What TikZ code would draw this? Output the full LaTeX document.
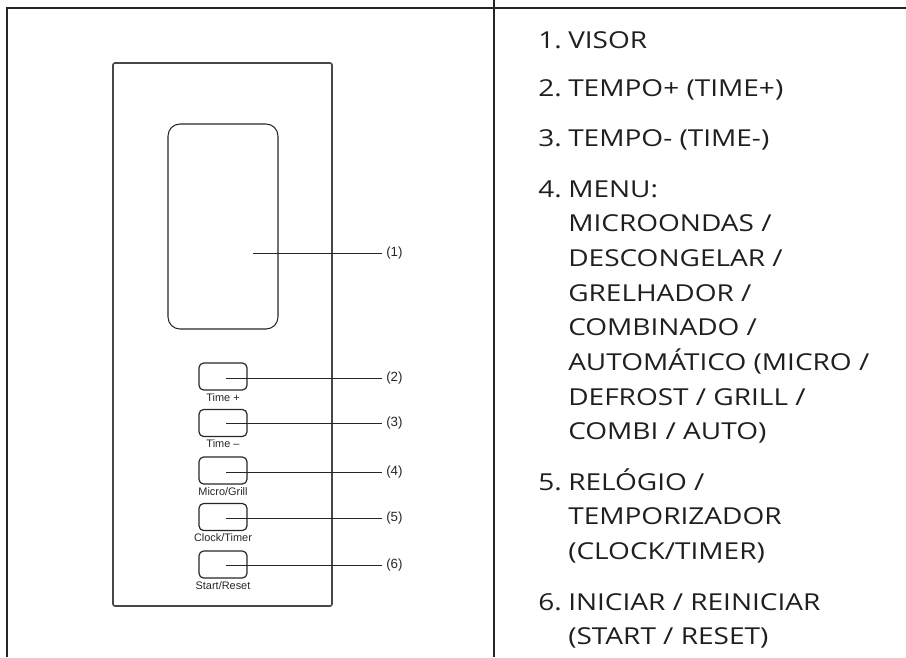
\documentclass[tikz,border=0pt]{standalone}
\usepackage{fontspec}
\setmainfont[FakeStretch=1.2]{Open Sans}
\newfontfamily\arialfont{Liberation Sans}
\usepackage{tikz}
\usetikzlibrary{positioning}
\newcommand{\entry}[2]{\makebox[22.5pt][l]{#1}\parbox[t]{250pt}{\raggedright #2}}
\tikzset{
  rule/.style={line width=0.8pt, black!85},
  panelbox/.style={draw=black!72, line width=1.2pt, rounded corners=1.5pt, minimum width=164.25pt, minimum height=407.25pt},
  screenbox/.style={draw=black!85, line width=0.8pt, rounded corners=9pt, minimum width=82.5pt, minimum height=153.75pt},
  keybox/.style={draw=black!85, line width=0.9pt, rounded corners=3.5pt, minimum width=36pt, minimum height=20.25pt},
  keylabel/.style={font=\arialfont\fontsize{8.2}{9}\selectfont, inner sep=0.5pt, text=black!85},
  calllabel/.style={font=\arialfont\fontsize{10}{12}\selectfont, inner xsep=3pt, anchor=west, text=black!85},
  leader/.style={line width=0.6pt, black!85},
  itemtext/.style={font=\fontsize{17.5}{26}\selectfont, inner sep=0pt, anchor=base west, text=black!88}
}
\begin{document}
\begin{tikzpicture}[x=0.75pt, y=-0.75pt]
  \useasboundingbox (0,0) rectangle (906,657);
  % table
  \draw[rule] (7,657) -- (7,8) -- (906,8);
  \draw[rule] (494,0) -- (494,657);
  % control panel
  \node[panelbox] (panel) at (222.5,334.5) {};
  \node[screenbox] (screen) at (223,226.5) {};
  \node[keybox] (k2) at (223,376.5) {};
  \node[keybox] (k3) at (223,423) {};
  \node[keybox] (k4) at (223,470.5) {};
  \node[keybox] (k5) at (223,517) {};
  \node[keybox] (k6) at (223,564.5) {};
  \node[keylabel, below=1.5pt of k2] (k2txt) {Time +};
  \node[keylabel, below=1.5pt of k3] (k3txt) {Time \textendash};
  \node[keylabel, below=1.5pt of k4] (k4txt) {Micro/Grill};
  \node[keylabel, below=1.5pt of k5] (k5txt) {Clock/Timer};
  \node[keylabel, below=1.5pt of k6] (k6txt) {Start/Reset};
  % callouts
  \coordinate (p1) at (253,253);
  \coordinate (p2) at (226,378);
  \coordinate (p3) at (226,423);
  \coordinate (p4) at (226,472);
  \coordinate (p5) at (226,518);
  \coordinate (p6) at (226,565);
  \node[calllabel] (c1) at (382,253) {(1)};
  \node[calllabel] (c2) at (382,378) {(2)};
  \node[calllabel] (c3) at (382,423) {(3)};
  \node[calllabel] (c4) at (382,472) {(4)};
  \node[calllabel] (c5) at (382,518) {(5)};
  \node[calllabel] (c6) at (382,565) {(6)};
  \draw[leader] (p1) -- (c1);
  \draw[leader] (p2) -- (c2);
  \draw[leader] (p3) -- (c3);
  \draw[leader] (p4) -- (c4);
  \draw[leader] (p5) -- (c5);
  \draw[leader] (p6) -- (c6);
  % legend
  \node[itemtext] (i1) at (538,48) {\entry{1.}{VISOR}};
  \node[itemtext] (i2) at (538,96) {\entry{2.}{TEMPO+ (TIME+)}};
  \node[itemtext] (i3) at (538,146) {\entry{3.}{TEMPO- (TIME-)}};
  \node[itemtext] (i4) at (538,197) {\entry{4.}{MENU:\\MICROONDAS /\\DESCONGELAR /\\GRELHADOR /\\COMBINADO /\\AUTOMÁTICO (MICRO /\\DEFROST / GRILL /\\COMBI / AUTO)}};
  \node[itemtext] (i5) at (538,490) {\entry{5.}{RELÓGIO /\\TEMPORIZADOR\\(CLOCK/TIMER)}};
  \node[itemtext] (i6) at (538,610) {\entry{6.}{INICIAR / REINICIAR\\(START / RESET)}};
\end{tikzpicture}
\end{document}
